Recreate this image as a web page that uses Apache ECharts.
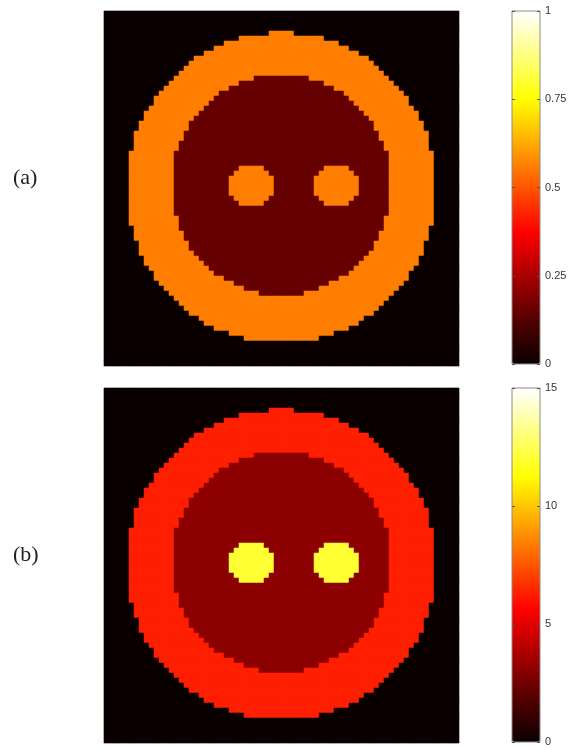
<!DOCTYPE html>
<html>
<head>
<meta charset="utf-8">
<script src="https://cdn.jsdelivr.net/npm/echarts@6/dist/echarts.min.js"></script>
<style>
html, body { margin: 0; padding: 0; background: #fff; }
#chart { width: 572px; height: 749px; }
</style>
</head>
<body>
<div id="chart"></div>
<script>
const gridSize = 71;
// phantom regions in cell units: [centerX, centerY, radius]
const outerDisc = [35.5, 35.4, 31];
const innerDisc = [35.5, 34.9, 22];
const leftDot = [29.5, 35, 4.4];
const rightDot = [46.5, 35, 4.4];
// level per region: background, ring, inner disc, dots
const levelsA = [0, 0.56, 0.15, 0.56];
const levelsB = [0, 6.3, 3.1, 12];
const ticksA = [0, 0.25, 0.5, 0.75, 1];
const ticksB = [0, 5, 10, 15];
const panelLabels = ['(a)', '(b)'];
// matlab "hot" colormap stops
const hotColors = ['#0b0000', '#550000', '#aa0000', '#ff0000', '#ff5500', '#ffaa00', '#ffff00', '#ffff80', '#ffffff'];

const inside = (d, i, j) => {
  const dx = i + 0.5 - d[0];
  const dy = j + 0.5 - d[1];
  return dx * dx + dy * dy <= d[2] * d[2];
};

const buildCells = (levels) => {
  const out = [];
  for (let j = 0; j < gridSize; j++) {
    for (let i = 0; i < gridSize; i++) {
      let v = levels[0];
      if (inside(outerDisc, i, j)) v = levels[1];
      if (inside(innerDisc, i, j)) v = levels[2];
      if (inside(leftDot, i, j) || inside(rightDot, i, j)) v = levels[3];
      out.push([i, j, v]);
    }
  }
  return out;
};

const cats = [];
for (let i = 0; i < gridSize; i++) cats.push(i);

const panelTops = [11, 388];
const barHeights = [353, 354];
const tickSets = [ticksA, ticksB];

const grids = [];
const xAxes = [];
const yAxes = [];
panelTops.forEach((top) => {
  grids.push({ left: 104, top: top, width: 355, height: 355, show: true, borderColor: '#d4d4d4', borderWidth: 1 });
});
panelTops.forEach((top, k) => {
  grids.push({ left: 512, top: top, width: 28, height: barHeights[k], show: true, borderColor: '#8a8a8a', borderWidth: 1, z: 6 });
});
for (let k = 0; k < 2; k++) {
  xAxes.push({ type: 'category', data: cats, gridIndex: k, show: false });
  yAxes.push({ type: 'category', data: cats, gridIndex: k, show: false, inverse: true });
}
const tickStyle = { color: '#555' };
for (let k = 0; k < 2; k++) {
  const t = tickSets[k];
  xAxes.push({ type: 'value', gridIndex: k + 2, show: false, min: 0, max: 1 });
  const base = {
    type: 'value', gridIndex: k + 2, min: t[0], max: t[t.length - 1], interval: t[1] - t[0],
    splitLine: { show: false }, axisLine: { show: false }, z: 7
  };
  // labels on the right
  yAxes.push(Object.assign({}, base, {
    position: 'right', axisTick: { show: false },
    axisLabel: { color: '#333', fontSize: 11, margin: 5, fontFamily: 'Liberation Sans' }
  }));
  // ticks inside left edge
  yAxes.push(Object.assign({}, base, {
    position: 'left', axisLabel: { show: false },
    axisTick: { show: true, inside: true, length: 3, lineStyle: tickStyle }
  }));
  // ticks inside right edge
  yAxes.push(Object.assign({}, base, {
    position: 'left', offset: -28, axisLabel: { show: false },
    axisTick: { show: true, inside: false, length: 3, lineStyle: tickStyle }
  }));
}

const option = {
  animation: false,
  backgroundColor: '#fff',
  title: panelLabels.map((t, k) => ({
    text: t, left: 13, top: panelTops[k] + 156, padding: 0,
    textStyle: { fontFamily: 'Liberation Serif', fontSize: 22, fontWeight: 'normal', color: '#222' }
  })),
  grid: grids,
  xAxis: xAxes,
  yAxis: yAxes,
  visualMap: [ticksA, ticksB].map((t, k) => ({
    type: 'continuous', seriesIndex: k, min: t[0], max: t[t.length - 1],
    left: 512, top: panelTops[k], itemWidth: 28, itemHeight: barHeights[k],
    padding: 0, calculable: false, hoverLink: false, text: null, z: 2,
    inRange: { color: hotColors }
  })),
  series: [levelsA, levelsB].map((lv, k) => ({
    type: 'heatmap', xAxisIndex: k, yAxisIndex: k, data: buildCells(lv), progressive: 0
  }))
};

const myChart = echarts.init(document.getElementById('chart'));
myChart.setOption(option);
</script>
</body>
</html>
